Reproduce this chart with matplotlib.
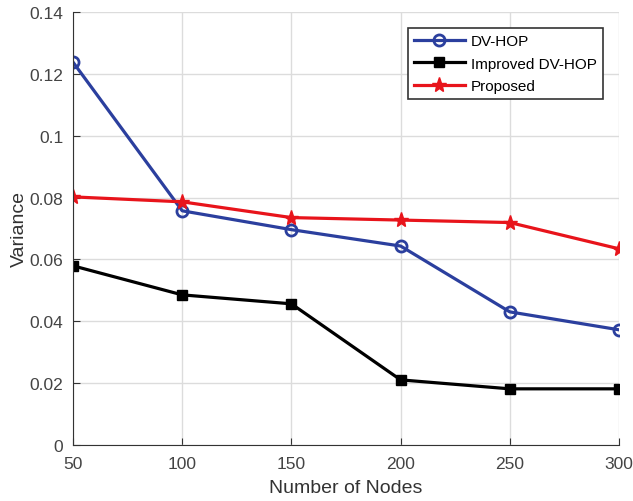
import matplotlib.pyplot as plt

nodes = [50, 100, 150, 200, 250, 300]
dv_hop = [0.1238, 0.0757, 0.0696, 0.0643, 0.0430, 0.0372]
improved_dv_hop = [0.0579, 0.0485, 0.0456, 0.0210, 0.0181, 0.0181]
proposed = [0.0802, 0.0786, 0.0735, 0.0727, 0.0719, 0.0634]

plt.rcParams["font.family"] = ["Liberation Sans", "DejaVu Sans"]

fig = plt.figure(figsize=(6.33, 5.02), dpi=100)
ax = fig.add_axes([0.1153, 0.112, 0.8626, 0.862])

ax.plot(nodes, dv_hop, "-o", color="#2b3f9e", linewidth=2.3, markersize=8,
        markerfacecolor="none", markeredgewidth=2, label="DV-HOP")
ax.plot(nodes, improved_dv_hop, "-s", color="black", linewidth=2.3, markersize=7,
        label="Improved DV-HOP")
ax.plot(nodes, proposed, "-*", color="#e8141b", linewidth=2.3, markersize=11,
        label="Proposed")

ax.set_xlim(50, 300)
ax.set_ylim(0, 0.14)
ax.set_xticks(nodes)
ax.set_yticks([0, 0.02, 0.04, 0.06, 0.08, 0.1, 0.12, 0.14])
ax.set_yticklabels(["0", "0.02", "0.04", "0.06", "0.08", "0.1", "0.12", "0.14"])
ax.grid(True, color="#dcdcdc", linewidth=1)
ax.set_axisbelow(True)
for side in ["top", "right"]:
    ax.spines[side].set_visible(False)
for side in ["left", "bottom"]:
    ax.spines[side].set_color("#333333")
ax.tick_params(direction="in", length=5, labelsize=12.5, colors="#333333",
               labelcolor="#444444")
ax.tick_params(axis="x", pad=8)
ax.tick_params(axis="y", pad=7)
ax.set_xlabel("Number of Nodes", fontsize=14, color="#333333", labelpad=6)
ax.set_ylabel("Variance", fontsize=14, color="#333333", labelpad=1)

leg = ax.legend(loc="upper right", bbox_to_anchor=(0.97, 0.963), borderaxespad=0,
                fontsize=11, fancybox=False, framealpha=1, edgecolor="#333333",
                handlelength=3.3, handletextpad=0.4, borderpad=0.4,
                labelspacing=0.55)
leg.get_frame().set_linewidth(1.2)

fig.savefig("out.png", dpi=100)
